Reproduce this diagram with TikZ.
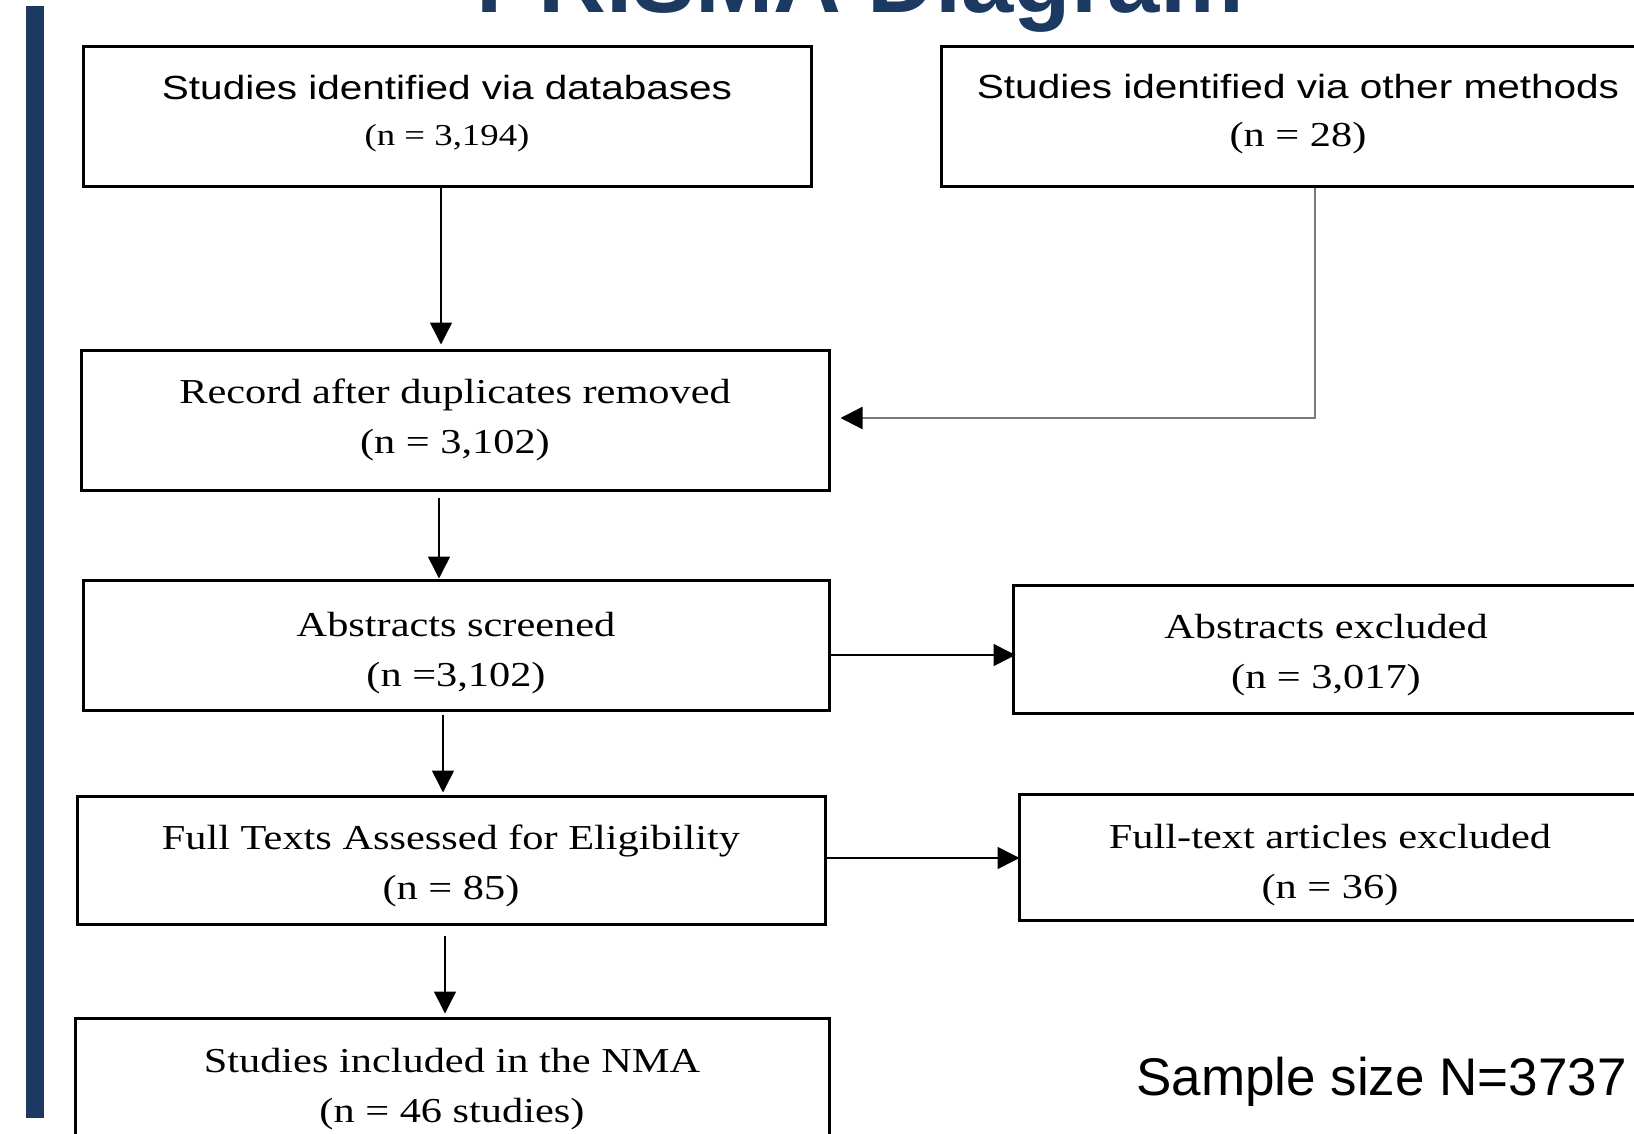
\documentclass[tikz,border=0pt]{standalone}
\usepackage{fontspec}
\setmainfont{Liberation Serif}
\newfontfamily\sansA{Liberation Sans}
\newfontfamily\sansS[FakeStretch=1.21]{Liberation Sans}
\newfontfamily\serS[FakeStretch=1.21]{Liberation Serif}
\usetikzlibrary{arrows.meta}
\definecolor{navy}{HTML}{1B3961}
\definecolor{conn}{HTML}{7A7A7A}
\begin{document}
\begin{tikzpicture}[x=1pt,y=-1pt,
  box/.style={draw=black, line width=3pt, inner sep=0pt},
  txt/.style={inner sep=0pt, align=center, font=\serS\fontsize{35}{50}\selectfont},
  arr/.style={line width=1.5pt, -{Triangle[length=22pt,width=22pt]}},
  garr/.style={line width=2.4pt, draw=conn, -{Triangle[length=22pt,width=22pt,fill=black,color=black]}}]
\useasboundingbox (0,0) rectangle (1634,1134);
\clip (0,0) rectangle (1634,1134);
\fill[white] (0,0) rectangle (1634,1134);
\fill[navy] (26,6) rectangle (44,1118);
\node[font=\sansA\bfseries\fontsize{94}{100}\selectfont, text=navy, anchor=base, inner sep=0pt] (title) at (860,13) {PRISMA Diagram};

\node[box, minimum width=728pt, minimum height=140pt] (b1) at (447,117) {};
\node[box, minimum width=714pt, minimum height=140pt] (b2) at (1298,117) {};
\node[box, minimum width=748pt, minimum height=140pt] (b3) at (455,420) {};
\node[box, minimum width=746pt, minimum height=130pt] (b4) at (456,645) {};
\node[box, minimum width=626pt, minimum height=128pt] (b5) at (1326,649) {};
\node[box, minimum width=748pt, minimum height=128pt] (b6) at (451,860) {};
\node[box, minimum width=622pt, minimum height=126pt] (b7) at (1330,857) {};
\node[box, minimum width=754pt, minimum height=134pt] (b8) at (452,1085) {};

\node[txt, font=\serS\fontsize{33.5}{46}\selectfont] (t1) at ([yshift=3.5pt]b1.center)
  {{\sansS\fontsize{33.5}{46}\selectfont Studies identified via databases}\\{\serS\fontsize{30.4}{46}\selectfont (n = 3,194)}};
\node[txt, font=\serS\fontsize{33.5}{48}\selectfont] (t2) at ([yshift=2.5pt]b2.center)
  {{\sansS\fontsize{33.5}{48}\selectfont Studies identified via other methods}\\{\serS\fontsize{35}{48}\selectfont (n = 28)}};
\node[txt] (t3) at (b3.center) {Record after duplicates removed\\(n = 3,102)};
\node[txt] (t4) at ([yshift=-8.3pt]b4.center) {Abstracts screened\\(n =3,102)};
\node[txt] (t5) at ([yshift=-6.3pt]b5.center) {Abstracts excluded\\(n = 3,017)};
\node[txt] (t6) at ([yshift=-6.3pt]b6.center) {Full Texts Assessed for Eligibility\\(n = 85)};
\node[txt] (t7) at ([yshift=-8.3pt]b7.center) {Full-text articles excluded\\(n = 36)};
\node[txt] (t8) at ([yshift=-4pt]b8.center) {Studies included in the NMA\\(n = 46 studies)};

\node[font=\sansA\fontsize{53}{60}\selectfont, anchor=base west, inner sep=0pt] (ss) at (1136,1095) {Sample size N=3737};

\coordinate (a1) at ([xshift=-6pt]b1.south);
\draw[arr, shorten >=4pt] (a1) -- (a1 |- b3.north);
\coordinate (g1) at ([xshift=17pt]b2.south);
\draw[garr] (g1) |- ([xshift=10pt,yshift=2pt]b3.east);
\coordinate (a3) at ([xshift=-16pt,yshift=-6pt]b3.south);
\draw[arr] (a3) -- (a3 |- b4.north);
\coordinate (a4) at ([yshift=-10pt]b4.east);
\draw[arr, shorten >=-4pt] (a4) -- (a4 -| b5.west);
\coordinate (a5) at ([xshift=-13pt,yshift=-3pt]b4.south);
\draw[arr, shorten >=2pt] (a5) -- (a5 |- b6.north);
\coordinate (a6) at ([yshift=2pt]b6.east);
\draw[arr, shorten >=-2pt] (a6) -- (a6 -| b7.west);
\coordinate (a7) at ([xshift=-6pt,yshift=-10pt]b6.south);
\draw[arr, shorten >=3pt] (a7) -- (a7 |- b8.north);
\end{tikzpicture}
\end{document}
